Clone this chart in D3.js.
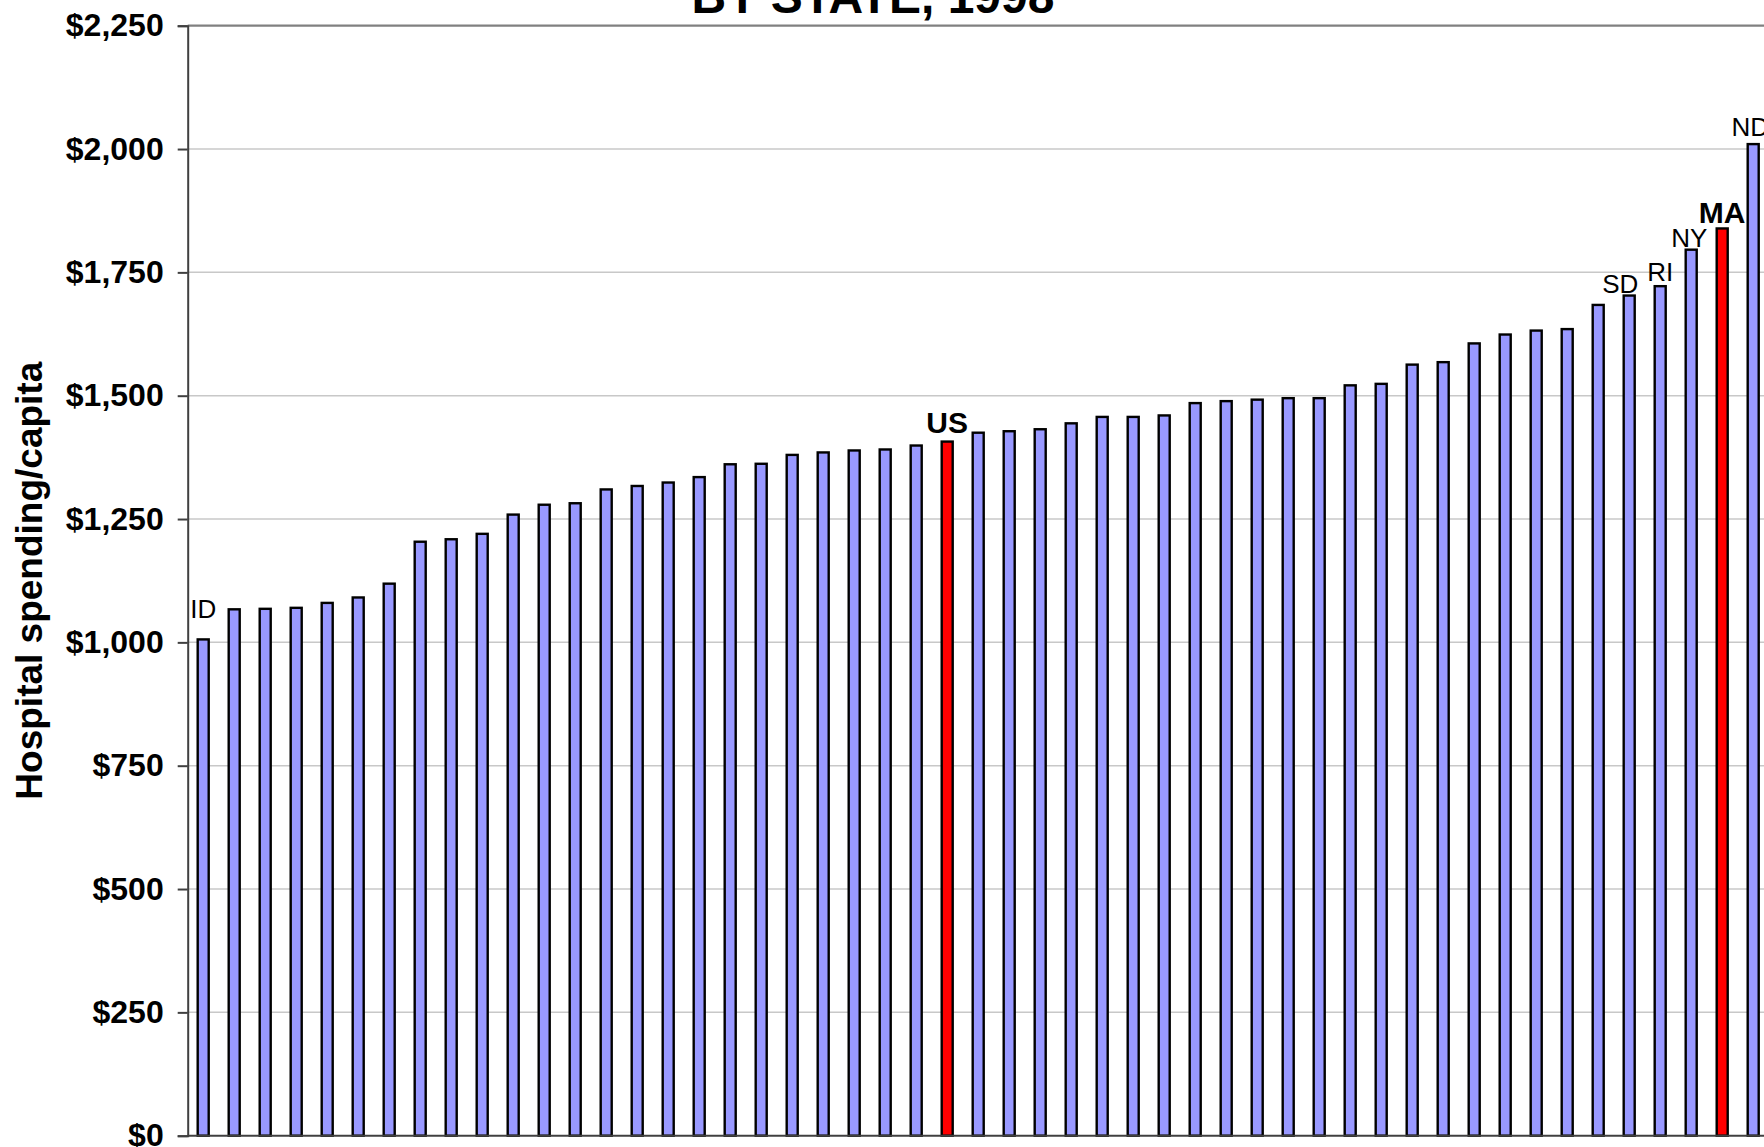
<!DOCTYPE html>
<html>
<head>
<meta charset="utf-8">
<script src="https://cdn.jsdelivr.net/npm/d3@7"></script>
<style>
  html, body { margin: 0; padding: 0; background: #fff; overflow: hidden; }
  svg { display: block; font-family: "Liberation Sans", Arial, sans-serif; }
</style>
</head>
<body>
<svg id="chart" width="1764" height="1147"></svg>
<script>
// ---- data ----
const labels = ["ID","","","","","","","","","","","","","","","","","","","","","","","","US",
  "","","","","","","","","","","","","","","","","","","","","","SD","RI","NY","MA","ND"];
const values = [1006,1067,1068,1070,1080,1091,1119,1204,1209,1220,1259,1279,1282,
  1310,1317,1324,1335,1361,1362,1380,1385,1389,1391,1399,1407,
  1425,1428,1432,1444,1457,1457,1460,1485,
  1489,1492,1495,1495,1521,1524,1563,1568,1606,1624,1632,1635,1684,1703,1722,1796,1839,2010];
const highlighted = ["US","MA"];
const yTicks = [0,250,500,750,1000,1250,1500,1750,2000,2250];
const titleText = "BY STATE, 1998";
const yAxisTitle = "Hospital spending/capita";

// ---- layout ----
const plotLeft = 187.7, plotRight = 1768.7, plotTop = 25.7, plotBottom = 1135.7;
const labelLayout = {
  ID: {dx: 0, gap: 21}, US: {dx: 0, gap: 9}, SD: {dx: -9, gap: 3},
  RI: {dx: 0, gap: 5}, NY: {dx: -2, gap: 3}, MA: {dx: 0, gap: 5}, ND: {dx: -3, gap: 8}
};

const svg = d3.select("#chart");
const x = d3.scaleBand().domain(d3.range(values.length)).range([plotLeft, plotRight])
  .paddingInner(0.645).paddingOuter(0.3225);
const y = d3.scaleLinear().domain([0, 2250]).range([plotBottom, plotTop]);

// gridlines
svg.append("g").selectAll("line").data(yTicks.filter(d => d > 0 && d < 2250)).join("line")
  .attr("x1", plotLeft).attr("x2", plotRight)
  .attr("y1", d => y(d)).attr("y2", d => y(d))
  .attr("stroke", "#c8c8c8").attr("stroke-width", 1.5);

// top border of plot
svg.append("line").attr("x1", plotLeft).attr("x2", plotRight)
  .attr("y1", y(2250)).attr("y2", y(2250))
  .attr("stroke", "#808080").attr("stroke-width", 2.2);

// bars
svg.append("g").selectAll("rect").data(values).join("rect")
  .attr("x", (d, i) => x(i))
  .attr("width", x.bandwidth())
  .attr("y", d => y(d))
  .attr("height", d => y(0) - y(d))
  .attr("fill", (d, i) => highlighted.includes(labels[i]) ? "#ff0000" : "#9999ff")
  .attr("stroke", "#000").attr("stroke-width", 2.4);

// y axis
const yAxis = d3.axisLeft(y).tickValues(yTicks)
  .tickFormat(d => "$" + d3.format(",")(d))
  .tickSize(10).tickPadding(14);
const ga = svg.append("g").attr("transform", `translate(${plotLeft},0)`).call(yAxis);
ga.select(".domain").attr("stroke", "#404040").attr("stroke-width", 2);
ga.selectAll(".tick line").attr("stroke", "#404040").attr("stroke-width", 2);
ga.selectAll(".tick text").attr("font-size", 32).attr("font-weight", "bold")
  .attr("fill", "#000").attr("font-family", "'Liberation Sans', Arial, sans-serif");

// x axis baseline
svg.append("line").attr("x1", plotLeft).attr("x2", plotRight)
  .attr("y1", y(0)).attr("y2", y(0))
  .attr("stroke", "#404040").attr("stroke-width", 2);

// bar labels
svg.append("g").selectAll("text")
  .data(values.map((v, i) => ({v, i, l: labels[i]})).filter(d => d.l))
  .join("text")
  .attr("x", d => x(d.i) + x.bandwidth() / 2 + (labelLayout[d.l] ? labelLayout[d.l].dx : 0))
  .attr("y", d => y(d.v) - (labelLayout[d.l] ? labelLayout[d.l].gap : 4))
  .attr("text-anchor", "middle")
  .attr("font-size", d => highlighted.includes(d.l) ? 30 : 26)
  .attr("font-weight", d => highlighted.includes(d.l) ? "bold" : "normal")
  .attr("fill", "#000")
  .text(d => d.l);

// y axis title
svg.append("text")
  .attr("transform", `translate(41.5,${(plotTop + plotBottom) / 2}) rotate(-90)`)
  .attr("text-anchor", "middle")
  .attr("font-size", 37).attr("font-weight", "bold").attr("fill", "#000")
  .text(yAxisTitle);

// chart title (cut off at top of the frame, as in the reference)
svg.append("text")
  .attr("x", 873).attr("y", 12.5)
  .attr("text-anchor", "middle")
  .attr("font-size", 48).attr("font-weight", "bold").attr("fill", "#000")
  .text(titleText);
</script>
</body>
</html>
